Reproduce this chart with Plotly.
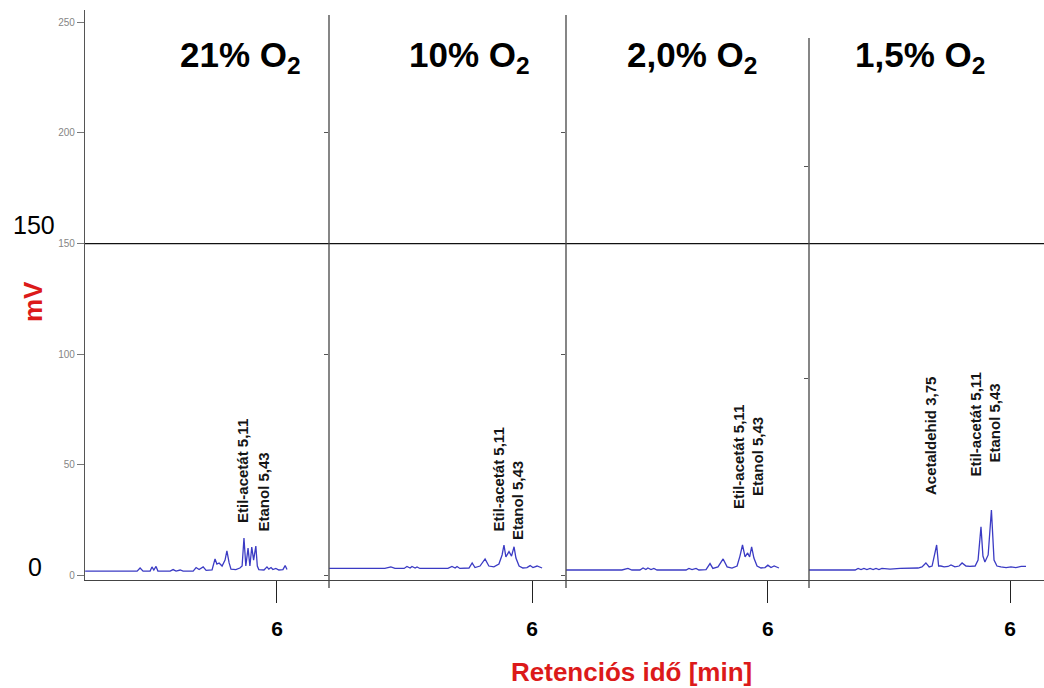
import plotly.graph_objects as go

# ---- chromatogram traces (retention time in min, detector signal in mV) ----
t_21 = [0.83, 2.23, 2.31, 2.39, 2.58, 2.63, 2.68, 2.74, 2.79, 3.12, 3.20, 3.28, 3.39, 3.47,
        3.74, 3.82, 3.90, 4.01, 4.09, 4.25, 4.33, 4.38, 4.44, 4.52, 4.60, 4.65, 4.71, 4.76,
        4.89, 5.00, 5.06, 5.11, 5.16, 5.22, 5.27, 5.32, 5.37, 5.43, 5.47, 5.51, 5.65, 5.73,
        5.78, 5.84, 5.89, 5.97, 6.05, 6.16, 6.22, 6.27]
mv_21 = [1.9, 1.9, 3.3, 1.9, 1.9, 3.8, 2.4, 4.0, 1.9, 1.9, 2.6, 1.9, 2.4, 1.9,
         1.9, 3.5, 2.6, 3.8, 2.2, 2.4, 7.4, 5.1, 5.6, 4.2, 6.9, 11.0, 5.6, 2.8,
         2.6, 3.3, 4.2, 16.9, 4.2, 12.3, 4.2, 12.8, 6.9, 13.2, 4.2, 2.6, 2.4, 3.8,
         2.8, 3.5, 2.6, 3.1, 2.4, 2.6, 4.4, 2.6]

t_10 = [-0.44, 1.33, 1.52, 1.65, 1.94, 2.03, 2.13, 2.19, 2.29, 2.35, 2.44, 3.33, 3.46, 3.56,
        3.62, 3.71, 4.00, 4.10, 4.19, 4.35, 4.51, 4.63, 4.79, 4.95, 5.05, 5.11, 5.17, 5.27,
        5.35, 5.43, 5.49, 5.59, 5.71, 5.84, 5.94, 6.03, 6.16, 6.25, 6.32]
mv_10 = [3.1, 3.1, 3.8, 3.1, 3.1, 4.0, 3.3, 4.0, 3.3, 3.8, 3.1, 3.1, 4.0, 3.3,
         4.0, 3.1, 3.3, 5.6, 3.5, 4.2, 7.4, 4.2, 3.8, 5.1, 9.2, 13.7, 8.3, 10.7,
         8.7, 12.9, 7.8, 4.2, 3.3, 3.5, 4.4, 3.5, 4.2, 3.5, 3.3]

t_2_0 = [-1.08, 0.88, 1.09, 1.23, 1.51, 1.62, 1.72, 1.79, 1.90, 2.00, 2.11, 3.13, 3.23, 3.34,
         3.48, 3.58, 3.83, 3.97, 4.07, 4.25, 4.43, 4.57, 4.74, 4.92, 5.02, 5.11, 5.20, 5.29,
         5.36, 5.43, 5.51, 5.62, 5.76, 5.90, 6.00, 6.11, 6.22, 6.32, 6.39]
mv_2_0 = [2.4, 2.4, 3.1, 2.4, 2.4, 3.3, 2.6, 3.3, 2.6, 3.1, 2.4, 2.4, 3.1, 2.6,
          3.1, 2.4, 2.6, 5.3, 3.1, 3.8, 7.4, 3.8, 3.3, 4.2, 8.7, 13.7, 8.3, 10.1,
          8.3, 12.9, 7.8, 4.2, 3.3, 3.5, 4.6, 3.5, 4.2, 3.5, 3.3]

t_1_5 = [-0.17, 1.25, 1.34, 1.43, 1.52, 1.61, 1.71, 1.80, 1.89, 1.98, 2.07, 2.32, 2.63, 2.93,
         3.18, 3.30, 3.42, 3.52, 3.61, 3.75, 3.81, 3.88, 3.98, 4.10, 4.19, 4.31, 4.44, 4.53,
         4.65, 4.77, 4.93, 5.02, 5.11, 5.17, 5.23, 5.33, 5.43, 5.51, 5.60, 5.72, 5.88, 6.03,
         6.18, 6.34, 6.43, 6.49]
mv_1_5 = [2.4, 2.4, 3.1, 2.6, 3.1, 2.6, 3.1, 2.6, 3.1, 2.6, 3.1, 2.8, 3.1, 3.1,
          3.3, 3.8, 5.6, 3.8, 4.2, 13.7, 4.2, 4.2, 3.8, 4.0, 4.7, 3.8, 4.2, 5.6,
          4.2, 4.0, 4.2, 6.9, 21.9, 8.7, 6.0, 9.2, 29.5, 6.9, 4.2, 3.8, 3.5, 3.8,
          3.5, 4.0, 4.2, 4.0]

panel_titles = ["21% O<sub>2</sub>", "10% O<sub>2</sub>", "2,0% O<sub>2</sub>", "1,5% O<sub>2</sub>"]
x_tick_values = [6]
x_tick_labels = ["6"]
y_tick_values = [0, 50, 100, 150, 200, 250]
y_tick_labels = ["0", "50", "100", "150", "200", "250"]
reference_level = 150  # mV guide line

# peak annotations per panel: (text, centre x px, centre y px)
peak_labels = [
    [("Etil-acetát 5,11", 242.5, 471.5), ("Etanol 5,43", 262.5, 492)],
    [("Etil-acetát 5,11", 498, 479.5), ("Etanol 5,43", 517, 501)],
    [("Etil-acetát 5,11", 738.5, 457.5), ("Etanol 5,43", 757, 457)],
    [("Acetaldehid 3,75", 930, 436), ("Etil-acetát 5,11", 974.5, 425), ("Etanol 5,43", 994, 423.5)],
]

# ---- page geometry ----
W, H = 1044, 688
FONT = "Arial, 'Liberation Sans', sans-serif"
BLUE = "#3b3bc4"
RED = "#dc1a1a"
AXIS = "#444444"


def px(x):
    return x / W


def py(y):
    return 1 - y / H


panel_px = [(85, 329), (329, 566), (566, 809), (809, 1044)]
x_ranges = [[0.825, 7.402], [-0.444, 7.079], [-1.083, 7.443], [-0.166, 7.043]]
y_range = [-2.12, 255.6]
y_dom = [py(580), py(10)]
panel_ticks = [y_tick_values, [0, 100, 200], [0, 100, 200], [89, 185]]
title_x = [240, 469, 691.5, 920]

series = [(t_21, mv_21), (t_10, mv_10), (t_2_0, mv_2_0), (t_1_5, mv_1_5)]

fig = go.Figure()
layout = dict(
    width=W, height=H, autosize=False,
    margin=dict(l=0, r=0, t=0, b=0, pad=0),
    paper_bgcolor="white", plot_bgcolor="white",
    font=dict(family=FONT, color="black"),
    showlegend=False,
)

for i, (t, mv) in enumerate(series):
    sfx = "" if i == 0 else str(i + 1)
    fig.add_trace(go.Scatter(
        x=t, y=mv, mode="lines",
        line=dict(color=BLUE, width=1.3),
        xaxis="x" + sfx, yaxis="y" + sfx, hoverinfo="skip",
    ))
    x0, x1 = panel_px[i]
    layout["xaxis" + sfx] = dict(
        domain=[px(x0), px(x1)], range=x_ranges[i], anchor="y" + sfx,
        showline=True, linecolor=AXIS, linewidth=1.3, mirror=False,
        ticks="outside", ticklen=22, tickwidth=1.3, tickcolor="#222222",
        tickvals=x_tick_values, ticktext=x_tick_labels, ticklabelstandoff=8,
        tickfont=dict(size=21, family=FONT, weight="bold", color="black"),
        showgrid=False, zeroline=False, fixedrange=True,
    )
    yax = dict(
        domain=y_dom, range=y_range, anchor="x" + sfx,
        showgrid=False, zeroline=False, fixedrange=True,
        ticks="outside", tickvals=panel_ticks[i],
    )
    if i == 0:
        yax.update(
            showline=True, linecolor="#555555", linewidth=1.3,
            ticklen=7, tickwidth=1, tickcolor="#777777",
            ticktext=y_tick_labels,
            tickfont=dict(size=10, family=FONT, color="#858585"),
        )
    else:
        yax.update(showline=False, ticklen=4, tickwidth=1, tickcolor="#555555",
                   showticklabels=False)
    layout["yaxis" + sfx] = yax

shapes = [
    # horizontal guide at the reference level across every panel
    dict(type="line", xref="paper", yref="y", x0=px(85), x1=1,
         y0=reference_level, y1=reference_level, line=dict(color="#111111", width=1.3)),
    # panel separators
    dict(type="line", xref="paper", yref="paper", x0=px(329), x1=px(329),
         y0=py(588), y1=py(15), line=dict(color=AXIS, width=1.3)),
    dict(type="line", xref="paper", yref="paper", x0=px(566), x1=px(566),
         y0=py(588), y1=py(15), line=dict(color=AXIS, width=1.3)),
    dict(type="line", xref="paper", yref="paper", x0=px(809), x1=px(809),
         y0=py(588), y1=py(38), line=dict(color=AXIS, width=1.3)),
]

annotations = []
for i, title in enumerate(panel_titles):
    annotations.append(dict(
        text=title, xref="paper", yref="paper", x=px(title_x[i]), y=py(57),
        xanchor="center", yanchor="middle", showarrow=False,
        font=dict(size=35, family=FONT, weight="bold", color="black"),
    ))

for group in peak_labels:
    for text, cx, cy in group:
        annotations.append(dict(
            text=text, xref="paper", yref="paper", x=px(cx), y=py(cy),
            xanchor="center", yanchor="middle", textangle=-90, showarrow=False,
            font=dict(size=15, family=FONT, weight="bold", color="#151515"),
        ))

# enlarged axis markers and axis titles
annotations += [
    dict(text="150", xref="paper", yref="paper", x=px(34), y=py(225),
         xanchor="center", yanchor="middle", showarrow=False,
         font=dict(size=25, family=FONT, color="black")),
    dict(text="0", xref="paper", yref="paper", x=px(35), y=py(567),
         xanchor="center", yanchor="middle", showarrow=False,
         font=dict(size=25, family=FONT, color="black")),
    dict(text="mV", xref="paper", yref="paper", x=px(33), y=py(302),
         xanchor="center", yanchor="middle", textangle=-90, showarrow=False,
         font=dict(size=26, family=FONT, weight="bold", color=RED)),
    dict(text="Retenciós idő [min]", xref="paper", yref="paper", x=px(631), y=py(672),
         xanchor="center", yanchor="middle", showarrow=False,
         font=dict(size=26, family=FONT, weight="bold", color=RED)),
]

layout["shapes"] = shapes
layout["annotations"] = annotations
fig.update_layout(**layout)

fig.write_html("out.html", config={"displayModeBar": False})
